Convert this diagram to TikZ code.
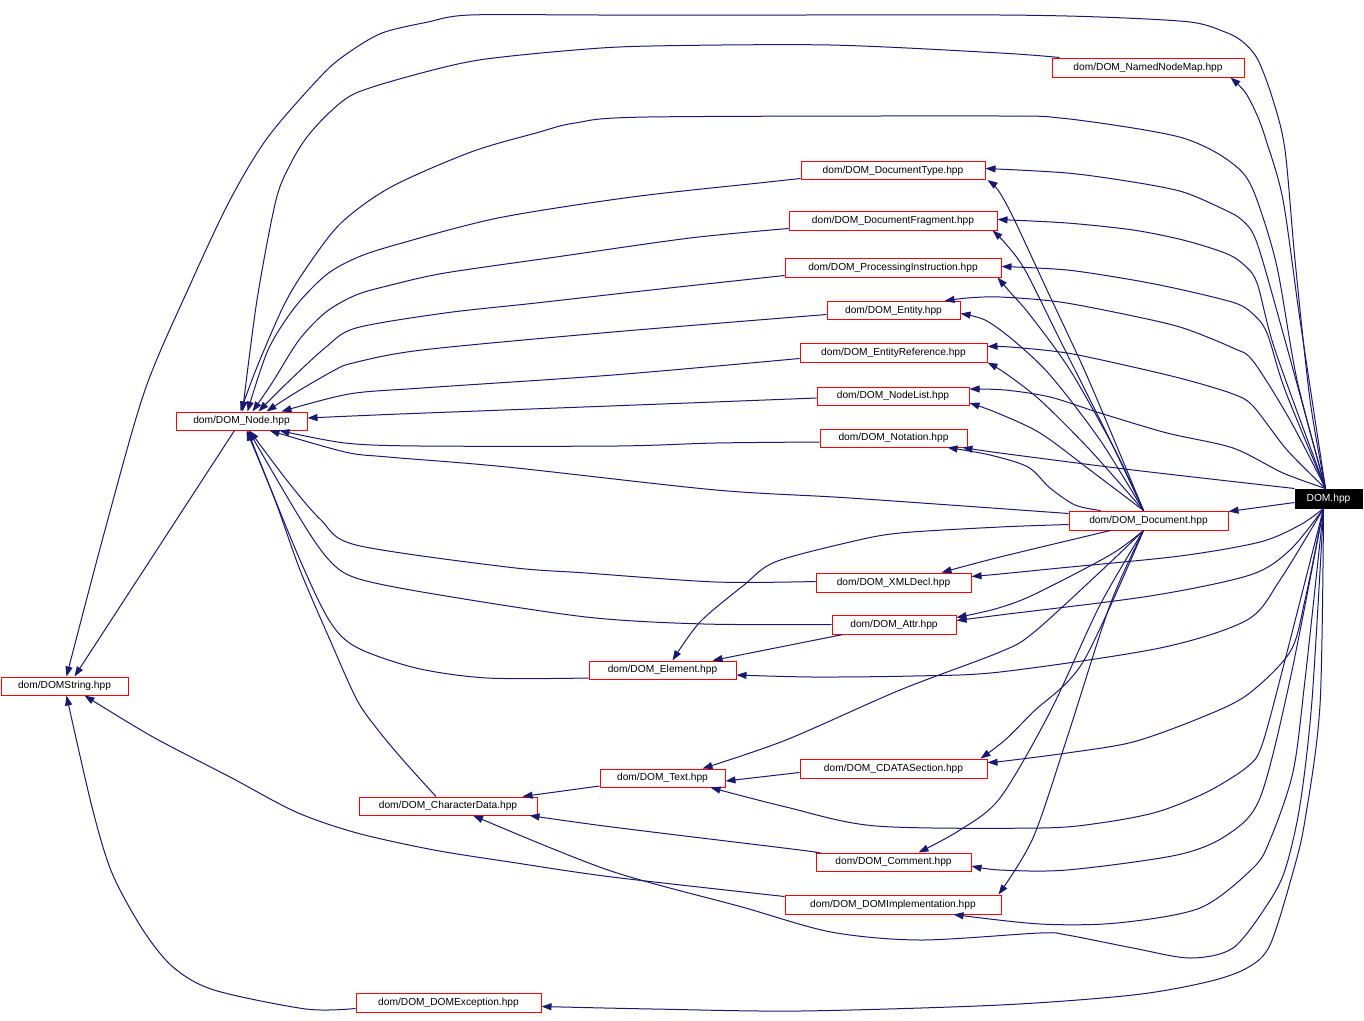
\documentclass[tikz,border=0pt]{standalone}
\usepackage{fontspec}
\setmainfont{Liberation Sans}
\usetikzlibrary{arrows.meta}
\definecolor{dblue}{HTML}{191970}
\begin{document}
\begin{tikzpicture}[x=1pt,y=-1pt,
  box/.style={draw=red, line width=1pt, fill=white, inner sep=0pt, minimum height=18pt, font=\fontsize{10.2}{12}\selectfont},
  rootbox/.style={draw=black, fill=black, text=white, line width=1pt, inner sep=0pt, minimum height=19pt, font=\fontsize{10.2}{12}\selectfont},
  edge/.style={draw=dblue, line width=1pt, -{Triangle[length=10pt,width=7pt]}},
  sm/.style={smooth, tension=0.5}]
\fill[white] (0,0) rectangle (1364,1020);
\useasboundingbox (0,0) rectangle (1364,1020);

% nodes
\node[rootbox, minimum width=67pt] (dom) at (1328.5,498.5) {DOM.hpp};
\node[box, minimum width=192pt, minimum height=19pt] (nnm) at (1148,67.5) {dom/DOM\_NamedNodeMap.hpp};
\node[box, minimum width=184pt] (dtype) at (893,170.5) {dom/DOM\_DocumentType.hpp};
\node[box, minimum width=208pt, minimum height=19pt] (dfrag) at (893,220.5) {dom/DOM\_DocumentFragment.hpp};
\node[box, minimum width=216pt, minimum height=19pt] (proc) at (893,267.5) {dom/DOM\_ProcessingInstruction.hpp};
\node[box, minimum width=133pt] (ent) at (893.5,310.5) {dom/DOM\_Entity.hpp};
\node[box, minimum width=187pt, minimum height=19pt] (eref) at (893.5,352.5) {dom/DOM\_EntityReference.hpp};
\node[box, minimum width=152pt] (nlist) at (893,396) {dom/DOM\_NodeList.hpp};
\node[box, minimum width=147pt] (nota) at (893.5,438) {dom/DOM\_Notation.hpp};
\node[box, minimum width=131pt] (dnode) at (241.5,421) {dom/DOM\_Node.hpp};
\node[box, minimum width=127pt] (dstr) at (64.5,686) {dom/DOMString.hpp};
\node[box, minimum width=159pt, minimum height=19pt] (doc) at (1148.5,520.5) {dom/DOM\_Document.hpp};
\node[box, minimum width=155pt, minimum height=19pt] (xml) at (893.5,582.5) {dom/DOM\_XMLDecl.hpp};
\node[box, minimum width=124pt, minimum height=19pt] (attr) at (894,624.5) {dom/DOM\_Attr.hpp};
\node[box, minimum width=147pt] (elem) at (662.5,670) {dom/DOM\_Element.hpp};
\node[box, minimum width=187pt, minimum height=19pt] (cdata) at (893.5,768.5) {dom/DOM\_CDATASection.hpp};
\node[box, minimum width=125pt] (txt) at (662.5,778) {dom/DOM\_Text.hpp};
\node[box, minimum width=178pt] (chd) at (448,806) {dom/DOM\_CharacterData.hpp};
\node[box, minimum width=155pt] (comm) at (893.5,862) {dom/DOM\_Comment.hpp};
\node[box, minimum width=216pt, minimum height=19pt] (impl) at (893,904.5) {dom/DOM\_DOMImplementation.hpp};
\node[box, minimum width=185pt, minimum height=19pt] (exc) at (448.5,1002.5) {dom/DOM\_DOMException.hpp};

% edges from DOM.hpp
\draw[edge] plot[sm] coordinates {([xshift=-3pt]dom.north) (1310,400) (1295,260) (1285,150) (1273,100) (1258,60) (1243,42) (1225,32) (1190,22) (1100,17) (1000,15) (800,15) (600,15) (470,15) (428,22) (382,33) (348,53) (322,75) (268,137) (230,200) (190,285) (145,390) (105,530) ([xshift=2pt]dstr.north)};
\draw[edge] plot[sm] coordinates {([xshift=-3pt]dom.north) (1300,320) (1283,200) (1266,140) (1257,115) (1245,92) ([xshift=-14pt]nnm.south east)};
\draw[edge] plot[sm] coordinates {([xshift=-3pt]dom.north) (1297,380) (1277,267) (1257,200) (1243,173) (1217,153) (1183,138) (1133,128) (1060,118) (1000,116) (648,117) (575,123) (536,133) (471,152) (391,187) (341,223) (307,267) (284,305) (257,367) ([xshift=-1pt]dnode.north)};
\draw[edge] plot[sm] coordinates {([xshift=-3pt]dom.north) (1283,333) (1257,243) (1243,221) (1225,210) (1183,192) (1133,182) (1067,173) ([yshift=2pt]dtype.east)};
\draw[edge] plot[sm] coordinates {([xshift=-3pt]dom.north) (1275,350) (1257,283) (1243,264) (1225,253) (1183,240) (1133,230) (1067,223) ([yshift=1pt]dfrag.east)};
\draw[edge] plot[sm] coordinates {([xshift=-3pt]dom.north) (1285,390) (1267,333) (1253,314) (1235,303) (1183,290) (1133,280) (1067,270) ([yshift=1pt]proc.east)};
\draw[edge] plot[sm] coordinates {([xshift=-3pt]dom.north) (1290,420) (1253,361) (1233,348) (1183,328) (1133,316) (1060,302) (1000,297) (967,298) ([xshift=-16pt]ent.north east)};
\draw[edge] plot[sm] coordinates {([xshift=-3pt]dom.north) (1287,450) (1253,406) (1233,394) (1187,380) (1133,367) (1067,353) (1010,347) ([yshift=6pt]eref.east)};
\draw[edge] plot[sm] coordinates {([xshift=-3pt]dom.north) (1283,473) (1233,448) (1167,433) (1100,413) (1050,397) (1005,390) ([yshift=7pt]nlist.east)};
\draw[edge] plot[sm] coordinates {(dom.north west) (1133,470) (1000,453) ([xshift=-5pt]nota.south east)};
\draw[edge] ([yshift=-4pt]dom.west) -- ([yshift=9pt]doc.east);
\draw[edge] plot[sm] coordinates {([xshift=-5pt]dom.south) (1300,525) (1260,542) (1180,556) (1060,568) (1000,574) ([yshift=6pt]xml.east)};
\draw[edge] plot[sm] coordinates {([xshift=-5pt]dom.south) (1290,550) (1250,575) (1150,596) (1000,615) ([yshift=4pt]attr.east)};
\draw[edge] plot[sm] coordinates {([xshift=-5pt]dom.south) (1280,580) (1247,620) (1160,648) (1000,672) (913,676) (813,677) ([yshift=-5pt]elem.east)};
\draw[edge] plot[sm] coordinates {([xshift=-5pt]dom.south) (1305,600) (1290,652) (1247,695) (1200,718) (1133,742) (1067,753) (1005,761) ([yshift=6pt]cdata.east)};
\draw[edge] plot[sm] coordinates {([xshift=-5pt]dom.south) (1285,660) (1262,745) (1247,767) (1207,792) (1157,812) (1100,823) (1040,828) (876,826) (786,807) ([xshift=-15pt]txt.south east)};
\draw[edge] plot[sm] coordinates {([xshift=-5pt]dom.south) (1290,680) (1260,798) (1227,835) (1177,855) (1067,870) (1000,870) ([yshift=-4pt]comm.east)};
\draw[edge] plot[sm] coordinates {([xshift=-5pt]dom.south) (1305,680) (1293,772) (1270,840) (1253,868) (1200,908) (1117,923) (1040,924) ([xshift=-48pt]impl.south east)};
\draw[edge] plot[sm] coordinates {([xshift=-5pt]dom.south) (1312,700) (1300,805) (1285,870) (1267,905) (1233,948) (1190,958) (1133,948) (1067,935) (1040,933) (920,940) (831,932) (742,907) (608,870) ([xshift=25pt]chd.south)};
\draw[edge] plot[sm] coordinates {([xshift=-5pt]dom.south) (1320,705) (1305,820) (1293,872) (1270,945) (1247,968) (1207,982) (1133,995) (1000,1005) (800,1011) (653,1009) ([yshift=-4pt]exc.east)};

% edges from DOM_Document.hpp
\draw[edge] plot[sm] coordinates {([xshift=-5pt]doc.north) (1110,430) (1083,367) (1047,290) (1013,217) (998,190) ([xshift=2pt]dtype.south east)};
\draw[edge] plot[sm] coordinates {([xshift=-5pt]doc.north) (1110,440) (1060,340) (1025,270) (1005,243) ([xshift=-5pt]dfrag.south east)};
\draw[edge] plot[sm] coordinates {([xshift=-5pt]doc.north) (1115,450) (1070,370) (1030,315) (1010,292) ([xshift=-4pt]proc.south east)};
\draw[edge] plot[sm] coordinates {([xshift=-5pt]doc.north) (1100,440) (1050,375) (1013,340) (985,320) ([yshift=-3pt]ent.east)};
\draw[edge] plot[sm] coordinates {([xshift=-5pt]doc.north) (1090,450) (1040,400) (1005,373) (eref.south east)};
\draw[edge] plot[sm] coordinates {([xshift=-5pt]doc.north) (1090,470) (1040,433) (995,412) ([yshift=-7pt]nlist.east)};
\draw[edge] plot[sm] coordinates {([xshift=-48pt]doc.north) (1075,505) (1050,488) (1028,467) (990,455) ([xshift=-20pt]nota.south east)};
\draw[edge] plot[sm] coordinates {([yshift=7pt]doc.west) (850,498) (716,490) (507,467) (388,457) (345,452) ([xshift=28pt]dnode.south)};
\draw[edge] plot[sm] coordinates {([xshift=-38pt]doc.south) (1000,557) ([xshift=-30pt]xml.north east)};
\draw[edge] plot[sm] coordinates {([xshift=-5pt]doc.south) (1110,555) (1033,595) (995,609) ([yshift=7pt]attr.east)};
\draw[edge] plot[sm] coordinates {([yshift=-4pt]doc.west) (1000,527) (900,533) (850,542) (775,562) (744,585) (700,622) ([xshift=10pt]elem.north)};
\draw[edge] plot[sm] coordinates {([xshift=-5pt]doc.south) (1100,572) (1033,633) (1000,652) (900,690) (786,740) ([xshift=40pt]txt.north)};
\draw[edge] plot[sm] coordinates {([xshift=-5pt]doc.south) (1083,662) (1033,712) (1005,740) ([xshift=-7pt]cdata.north east)};
\draw[edge] plot[sm] coordinates {([xshift=-5pt]doc.south) (1100,605) (1050,712) (1000,798) (960,830) ([xshift=25pt]comm.north)};
\draw[edge] plot[sm] coordinates {([xshift=-5pt]doc.south) (1110,605) (1067,738) (1033,838) ([xshift=-3pt]impl.north east)};

% edges into DOM_Node.hpp
\draw[edge] plot[sm] coordinates {([xshift=8pt]nnm.north west) (1000,53) (830,45) (651,46) (575,50) (479,60) (414,75) (356,93) (330,112) (307,137) (291,163) (276,200) (257,300) ([xshift=1pt]dnode.north)};
\draw[edge] plot[sm] coordinates {([yshift=-8pt]dtype.west) (759,183) (632,197) (498,218) (395,245) (356,258) (326,275) (295,307) (268,350) ([xshift=6pt]dnode.north)};
\draw[edge] plot[sm] coordinates {([yshift=-8pt]dfrag.west) (690,238) (556,257) (445,273) (391,285) (356,295) (326,312) (299,340) (272,383) ([xshift=11pt]dnode.north)};
\draw[edge] plot[sm] coordinates {([yshift=-8pt]proc.west) (651,290) (536,303) (445,313) (356,328) (326,347) (287,383) ([xshift=17pt]dnode.north)};
\draw[edge] plot[sm] coordinates {([yshift=-4pt]ent.west) (613,332) (422,350) (353,363) (333,371) (295,393) ([xshift=25pt]dnode.north)};
\draw[edge] plot[sm] coordinates {([yshift=-6pt]eref.west) (613,375) (422,388) (349,394) ([xshift=40pt]dnode.north)};
\draw[edge] plot[sm] coordinates {([yshift=-2pt]nlist.west) (636,405) (400,414) ([yshift=3pt]dnode.east)};
\draw[edge] plot[sm] coordinates {([yshift=-4pt]nota.west) (716,443) (617,446) (420,446) (345,443) ([xshift=38pt]dnode.south)};
\draw[edge] plot[sm] coordinates {([yshift=1pt]xml.west) (716,582) (586,573) (507,567) (356,545) (321,520) (289,483) ([xshift=8pt]dnode.south)};
\draw[edge] plot[sm] coordinates {(attr.west) (704,624) (586,617) (428,593) (356,578) (329,560) (301,520) ([xshift=7pt]dnode.south)};
\draw[edge] plot[sm] coordinates {([yshift=-8pt]elem.west) (487,678) (416,668) (356,647) (329,620) (297,553) ([xshift=6pt]dnode.south)};
\draw[edge] plot[sm] coordinates {([xshift=-12pt]chd.north) (403,760) (378,730) (357,700) (330,640) (300,570) (275,500) ([xshift=5pt]dnode.south)};

% other edges
\draw[edge] ([xshift=-7pt]dnode.south) -- ([xshift=10pt]dstr.north);
\draw[edge] plot[sm] coordinates {([yshift=8pt]impl.west) (612,877) (510,862) (434,850) (357,833) (296,812) (230,777) (153,737) ([xshift=-44pt]dstr.south east)};
\draw[edge] plot[sm] coordinates {([yshift=-6pt]exc.west) (306,1009) (214,990) (173,967) (143,930) (112,873) (92,807) ([xshift=2pt]dstr.south)};
\draw[edge] ([yshift=-4pt]cdata.west) -- ([yshift=-3pt]txt.east);
\draw[edge] ([yshift=-8pt]txt.west) -- ([xshift=-15pt]chd.north east);
\draw[edge] plot[sm] coordinates {(comm.north west) (800,850) (612,827) ([xshift=-8pt]chd.south east)};
\draw[edge] ([xshift=-51pt]attr.south) -- ([xshift=50pt]elem.north);
\end{tikzpicture}
\end{document}
